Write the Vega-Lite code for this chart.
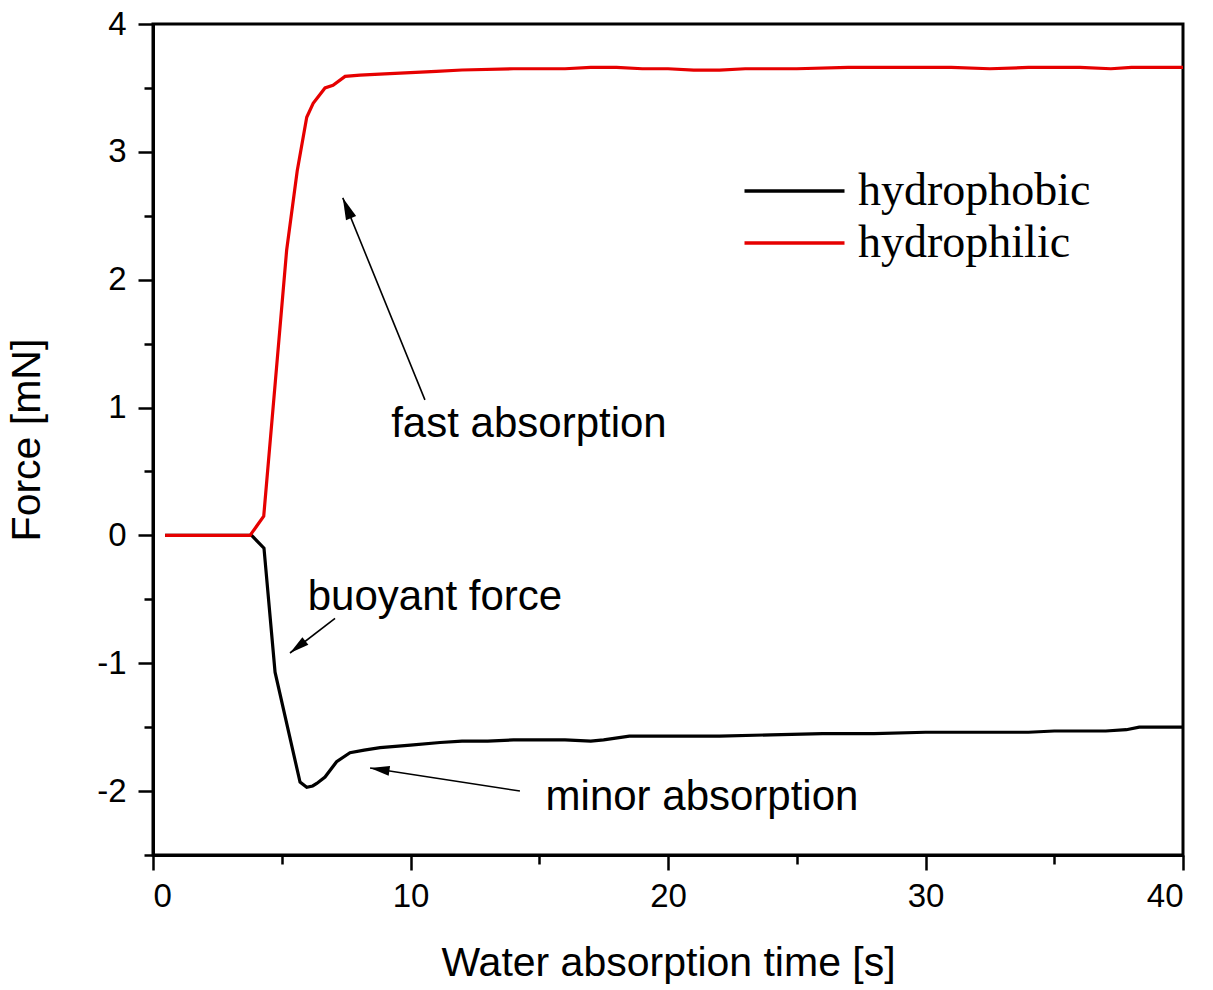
{
  "$schema": "https://vega.github.io/schema/vega-lite/v6.json",
  "width": 1030,
  "height": 831,
  "autosize": {"type": "none"},
  "padding": {"left": 153, "top": 24, "right": 30, "bottom": 135},
  "background": "white",
  "config": {
    "view": {"stroke": "black", "strokeWidth": 3},
    "axis": {
      "grid": false,
      "domainColor": "black",
      "domainWidth": 3,
      "tickColor": "black",
      "tickWidth": 2.5,
      "labelColor": "black",
      "titleColor": "black",
      "labelFont": "Liberation Sans",
      "titleFont": "Liberation Sans",
      "labelFontSize": 33,
      "titleFontSize": 41,
      "titleFontWeight": "normal"
    },
    "legend": {
      "orient": "none",
      "legendX": 614.5,
      "legendY": 140,
      "padding": 0,
      "symbolType": "M-2,0H2",
      "symbolSize": 2500,
      "symbolStrokeWidth": 3.5,
      "labelFont": "Liberation Serif",
      "labelFontSize": 46,
      "labelColor": "black",
      "labelOffset": 36.5,
      "rowPadding": 2,
      "labelLimit": 400
    }
  },
  "datasets": {
    "curves": [
      {"series": "hydrophobic", "t": 0.47, "force": 0},
      {"series": "hydrophobic", "t": 3.83, "force": 0},
      {"series": "hydrophobic", "t": 4.31, "force": -0.1},
      {"series": "hydrophobic", "t": 4.74, "force": -1.07},
      {"series": "hydrophobic", "t": 5.71, "force": -1.93},
      {"series": "hydrophobic", "t": 5.97, "force": -1.97},
      {"series": "hydrophobic", "t": 6.2, "force": -1.96},
      {"series": "hydrophobic", "t": 6.36, "force": -1.94},
      {"series": "hydrophobic", "t": 6.68, "force": -1.89},
      {"series": "hydrophobic", "t": 7.13, "force": -1.77},
      {"series": "hydrophobic", "t": 7.65, "force": -1.7},
      {"series": "hydrophobic", "t": 8.2, "force": -1.68},
      {"series": "hydrophobic", "t": 8.82, "force": -1.66},
      {"series": "hydrophobic", "t": 10, "force": -1.64},
      {"series": "hydrophobic", "t": 11.15, "force": -1.62},
      {"series": "hydrophobic", "t": 12, "force": -1.61},
      {"series": "hydrophobic", "t": 13, "force": -1.61},
      {"series": "hydrophobic", "t": 14, "force": -1.6},
      {"series": "hydrophobic", "t": 15, "force": -1.6},
      {"series": "hydrophobic", "t": 16, "force": -1.6},
      {"series": "hydrophobic", "t": 17, "force": -1.61},
      {"series": "hydrophobic", "t": 17.5, "force": -1.6},
      {"series": "hydrophobic", "t": 18.5, "force": -1.57},
      {"series": "hydrophobic", "t": 20, "force": -1.57},
      {"series": "hydrophobic", "t": 22, "force": -1.57},
      {"series": "hydrophobic", "t": 24, "force": -1.56},
      {"series": "hydrophobic", "t": 26, "force": -1.55},
      {"series": "hydrophobic", "t": 28, "force": -1.55},
      {"series": "hydrophobic", "t": 30, "force": -1.54},
      {"series": "hydrophobic", "t": 32, "force": -1.54},
      {"series": "hydrophobic", "t": 34, "force": -1.54},
      {"series": "hydrophobic", "t": 35, "force": -1.53},
      {"series": "hydrophobic", "t": 37, "force": -1.53},
      {"series": "hydrophobic", "t": 37.8, "force": -1.52},
      {"series": "hydrophobic", "t": 38.3, "force": -1.5},
      {"series": "hydrophobic", "t": 40, "force": -1.5},
      {"series": "hydrophilic", "t": 0.47, "force": 0},
      {"series": "hydrophilic", "t": 2, "force": 0},
      {"series": "hydrophilic", "t": 3.77, "force": 0},
      {"series": "hydrophilic", "t": 4.3, "force": 0.15},
      {"series": "hydrophilic", "t": 4.75, "force": 1.2},
      {"series": "hydrophilic", "t": 5.19, "force": 2.23},
      {"series": "hydrophilic", "t": 5.6, "force": 2.85},
      {"series": "hydrophilic", "t": 5.97, "force": 3.27},
      {"series": "hydrophilic", "t": 6.22, "force": 3.38},
      {"series": "hydrophilic", "t": 6.68, "force": 3.5},
      {"series": "hydrophilic", "t": 6.99, "force": 3.52},
      {"series": "hydrophilic", "t": 7.46, "force": 3.59},
      {"series": "hydrophilic", "t": 8.04, "force": 3.6},
      {"series": "hydrophilic", "t": 9, "force": 3.61},
      {"series": "hydrophilic", "t": 10, "force": 3.62},
      {"series": "hydrophilic", "t": 11, "force": 3.63},
      {"series": "hydrophilic", "t": 12, "force": 3.64},
      {"series": "hydrophilic", "t": 14, "force": 3.65},
      {"series": "hydrophilic", "t": 16, "force": 3.65},
      {"series": "hydrophilic", "t": 17, "force": 3.66},
      {"series": "hydrophilic", "t": 18, "force": 3.66},
      {"series": "hydrophilic", "t": 19, "force": 3.65},
      {"series": "hydrophilic", "t": 20, "force": 3.65},
      {"series": "hydrophilic", "t": 21, "force": 3.64},
      {"series": "hydrophilic", "t": 22, "force": 3.64},
      {"series": "hydrophilic", "t": 23, "force": 3.65},
      {"series": "hydrophilic", "t": 25, "force": 3.65},
      {"series": "hydrophilic", "t": 27, "force": 3.66},
      {"series": "hydrophilic", "t": 29, "force": 3.66},
      {"series": "hydrophilic", "t": 31, "force": 3.66},
      {"series": "hydrophilic", "t": 32.5, "force": 3.65},
      {"series": "hydrophilic", "t": 34, "force": 3.66},
      {"series": "hydrophilic", "t": 36, "force": 3.66},
      {"series": "hydrophilic", "t": 37.2, "force": 3.65},
      {"series": "hydrophilic", "t": 38, "force": 3.66},
      {"series": "hydrophilic", "t": 40, "force": 3.66}
    ],
    "arrows": [
      {"note": "fast", "t0": 10.56, "f0": 1.06, "t1": 7.37, "f1": 2.64},
      {"note": "buoyant", "t0": 7.07, "f0": -0.65, "t1": 5.32, "f1": -0.92},
      {"note": "minor", "t0": 14.25, "f0": -2.0, "t1": 8.43, "f1": -1.82}
    ],
    "notes": [
      {"text": "fast absorption", "t": 14.6, "f": 0.77},
      {"text": "buoyant force", "t": 10.95, "f": -0.585},
      {"text": "minor absorption", "t": 21.32, "f": -2.15}
    ]
  },
  "layer": [
    {
      "data": {"name": "curves"},
      "mark": {"type": "line", "strokeWidth": 3.2},
      "encoding": {
        "x": {
          "field": "t", "type": "quantitative",
          "scale": {"domain": [0, 40], "nice": false, "zero": false},
          "axis": {"orient": "bottom", "values": [0, 10, 20, 30, 40], "tickSize": 15, "labelPadding": 10, "title": "Water absorption time [s]", "titlePadding": 30}
        },
        "y": {
          "field": "force", "type": "quantitative",
          "scale": {"domain": [-2.5, 4], "nice": false, "zero": false},
          "axis": {"orient": "left", "values": [-2, -1, 0, 1, 2, 3, 4], "tickSize": 15, "labelPadding": 12,
                   "labelExpr": "datum.value < 0 ? '-' + abs(datum.value) : '' + datum.value",
                   "title": "Force [mN]", "titlePadding": 48}
        },
        "color": {
          "field": "series", "type": "nominal",
          "scale": {"domain": ["hydrophobic", "hydrophilic"], "range": ["#000000", "#e60000"]},
          "legend": {"title": null}
        },
        "order": {"field": "t", "type": "quantitative"}
      }
    },
    {
      "data": {"name": "arrows"},
      "mark": {"type": "rule", "strokeWidth": 1.6, "color": "black"},
      "encoding": {
        "x": {"field": "t0", "type": "quantitative",
              "axis": {"orient": "bottom", "values": [5, 15, 25, 35], "tickSize": 9, "labels": false, "domain": false, "title": null}},
        "y": {"field": "f0", "type": "quantitative",
              "axis": {"orient": "left", "values": [-2.5, -1.5, -0.5, 0.5, 1.5, 2.5, 3.5], "tickSize": 9, "labels": false, "domain": false, "title": null}},
        "x2": {"field": "t1"},
        "y2": {"field": "f1"}
      }
    },
    {
      "data": {"name": "arrows"},
      "transform": [{"filter": "datum.note === 'fast'"}],
      "mark": {"type": "point", "shape": "M0,0L0.5,2L-0.5,2Z", "filled": true, "color": "black", "opacity": 1, "size": 480, "angle": 337.8},
      "encoding": {
        "x": {"field": "t1", "type": "quantitative", "axis": null},
        "y": {"field": "f1", "type": "quantitative", "axis": null}
      }
    },
    {
      "data": {"name": "arrows"},
      "transform": [{"filter": "datum.note === 'buoyant'"}],
      "mark": {"type": "point", "shape": "M0,0L0.5,2L-0.5,2Z", "filled": true, "color": "black", "opacity": 1, "size": 380, "angle": 232.1},
      "encoding": {
        "x": {"field": "t1", "type": "quantitative", "axis": null},
        "y": {"field": "f1", "type": "quantitative", "axis": null}
      }
    },
    {
      "data": {"name": "arrows"},
      "transform": [{"filter": "datum.note === 'minor'"}],
      "mark": {"type": "point", "shape": "M0,0L0.5,2L-0.5,2Z", "filled": true, "color": "black", "opacity": 1, "size": 380, "angle": 278.3},
      "encoding": {
        "x": {"field": "t1", "type": "quantitative", "axis": null},
        "y": {"field": "f1", "type": "quantitative", "axis": null}
      }
    },
    {
      "data": {"name": "notes"},
      "mark": {"type": "text", "font": "Liberation Sans", "fontSize": 42, "align": "center", "baseline": "alphabetic", "color": "black"},
      "encoding": {
        "x": {"field": "t", "type": "quantitative", "axis": null},
        "y": {"field": "f", "type": "quantitative", "axis": null},
        "text": {"field": "text"}
      }
    }
  ],
  "resolve": {"axis": {"x": "independent", "y": "independent"}}
}
